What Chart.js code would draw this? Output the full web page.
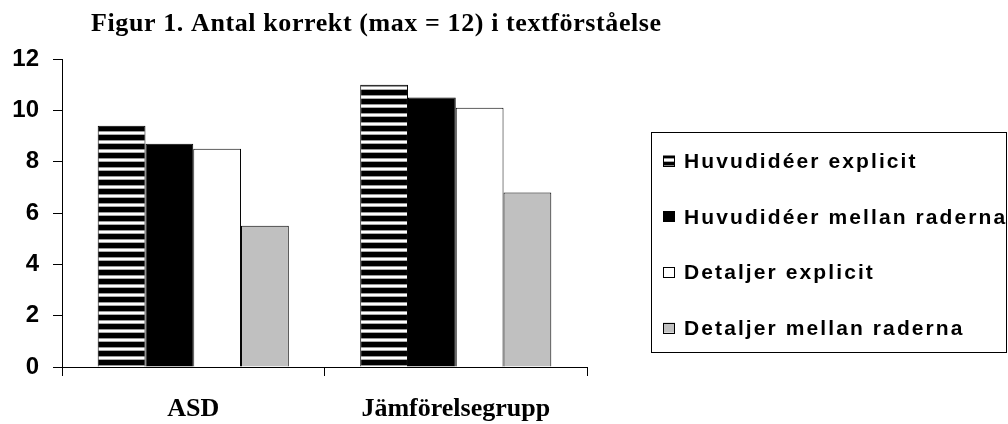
<!DOCTYPE html>
<html>
<head>
<meta charset="utf-8">
<script src="https://cdn.jsdelivr.net/npm/chart.js@4/dist/chart.umd.min.js"></script>
<style>
  html, body { margin: 0; padding: 0; background: #fff; }
  #wrap { width: 1008px; height: 424px; position: relative; }
</style>
</head>
<body>
<div id="wrap"><canvas id="c" width="1008" height="424"></canvas></div>
<script>
const title = 'Figur 1. Antal korrekt (max = 12) i textförståelse';
const categories = ['ASD', 'Jämförelsegrupp'];
const seriesNames = ['Huvudidéer explicit', 'Huvudidéer mellan raderna', 'Detaljer explicit', 'Detaljer mellan raderna'];
const huvudExplicit = [9.4, 11.0];
const huvudMellan = [8.7, 10.5];
const detaljExplicit = [8.5, 10.1];
const detaljMellan = [5.5, 6.8];
const yMin = 0, yMax = 12, yStep = 2;

function stripePattern() {
  const p = document.createElement('canvas');
  p.width = 8; p.height = 9;
  const g = p.getContext('2d');
  g.fillStyle = '#000'; g.fillRect(0, 0, 8, 9);
  g.fillStyle = '#999'; g.fillRect(0, 5, 8, 1);
  g.fillStyle = '#fff'; g.fillRect(0, 6, 8, 2);
  g.fillStyle = '#aaa'; g.fillRect(0, 8, 8, 1);
  return document.getElementById('c').getContext('2d').createPattern(p, 'repeat');
}
const stripes = stripePattern();
const fills = [stripes, '#000000', '#ffffff', '#c0c0c0'];
const values = [huvudExplicit, huvudMellan, detaljExplicit, detaljMellan];

const boxLegend = {
  id: 'boxLegend',
  afterDraw(chart) {
    const ctx = chart.ctx;
    ctx.save();
    ctx.strokeStyle = '#000'; ctx.lineWidth = 1;
    ctx.strokeRect(651.5, 132.5, 355, 220);
    ctx.font = 'bold 21px "Liberation Sans", Arial, sans-serif';
    ctx.letterSpacing = '2.1px';
    ctx.fillStyle = '#000';
    ctx.textBaseline = 'alphabetic';
    chart.data.datasets.forEach((ds, i) => {
      const cy = 160.5 + i * 55.7;
      ctx.fillStyle = ds.backgroundColor;
      ctx.fillRect(663, cy - 5, 12, 10);
      ctx.strokeStyle = '#000';
      ctx.strokeRect(663.5, Math.round(cy - 5) + 0.5, 11, 10);
      ctx.fillStyle = '#000';
      ctx.fillText(ds.label, 684, cy + 7.5);
    });
    ctx.letterSpacing = '0.6px';
    ctx.font = 'bold 26px "Liberation Serif", "Times New Roman", serif';
    ctx.fillText(title, 91, 31);
    ctx.restore();
  }
};

new Chart(document.getElementById('c'), {
  type: 'bar',
  data: {
    labels: categories,
    datasets: seriesNames.map((n, i) => ({
      label: n,
      data: values[i],
      backgroundColor: fills[i],
      borderColor: '#000',
      borderWidth: 1,
      barPercentage: 1,
      categoryPercentage: 0.728
    }))
  },
  options: {
    responsive: false,
    animation: false,
    layout: { padding: { left: 0, right: 421, top: 59, bottom: 0 } },
    plugins: { legend: { display: false }, tooltip: { enabled: false }, title: { display: false } },
    scales: {
      x: {
        grid: { display: true, drawOnChartArea: false, drawTicks: true, tickLength: 9, color: '#000', offset: true },
        border: { display: true, color: '#000', width: 1 },
        ticks: { color: '#000', padding: 18, font: { family: '"Liberation Serif", "Times New Roman", serif', size: 26, weight: 'bold' } },
        afterFit(s) { s.height = 57; }
      },
      y: {
        min: yMin, max: yMax,
        grid: { display: true, drawOnChartArea: false, drawTicks: true, tickLength: 9, color: '#000' },
        border: { display: true, color: '#000', width: 1 },
        ticks: { stepSize: yStep, color: '#000', padding: 14, font: { family: '"Liberation Sans", Arial, sans-serif', size: 24, weight: 'bold' } },
        afterFit(s) { s.width = 62; }
      }
    }
  },
  plugins: [boxLegend]
});
</script>
</body>
</html>
